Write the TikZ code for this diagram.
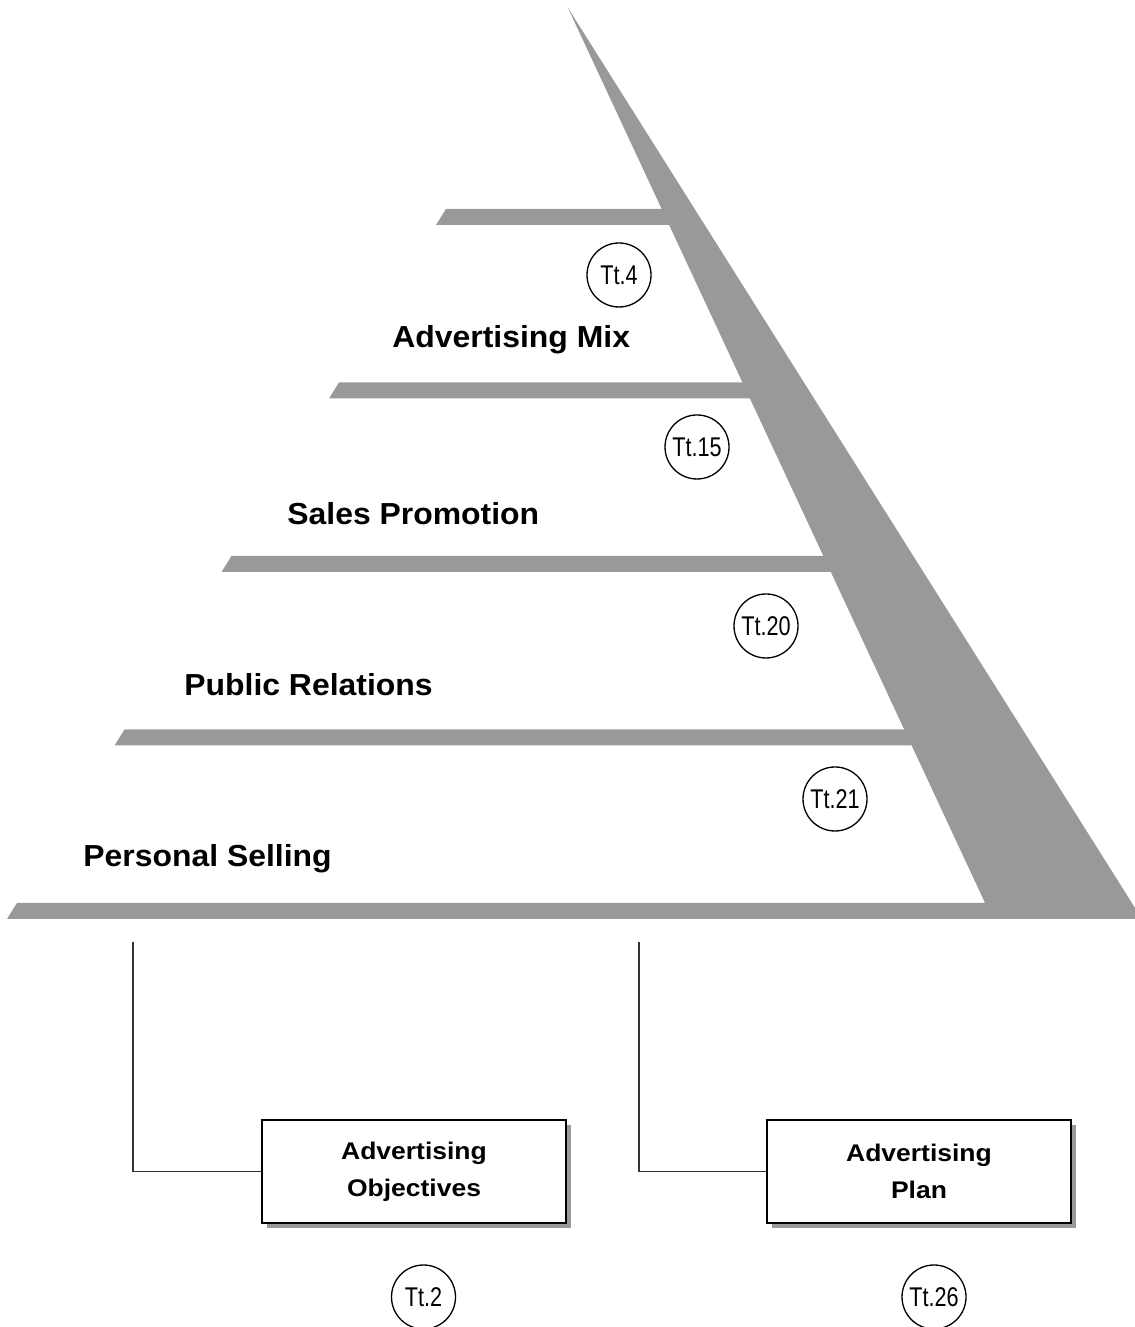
\documentclass[tikz,border=0pt]{standalone}
\usepackage{fontspec}
\setmainfont{Liberation Sans}
\newfontfamily\labelfont[FakeStretch=1.05]{Liberation Sans}
\newfontfamily\boxfont[FakeStretch=1.1]{Liberation Sans}
\newfontfamily\tagfont[FakeStretch=0.8]{Liberation Sans}
\usepackage{tikz}
\usetikzlibrary{calc,shadows}
\definecolor{shelfgray}{gray}{0.6}
\tikzset{shelf/.style={
    fill=shelfgray,
  },
  level/.style={
    anchor=base west, inner sep=0pt,
    font=\labelfont\bfseries\fontsize{17.3}{20}\selectfont
  },
  tag/.style={
    circle, draw, line width=0.75pt, minimum size=1.28cm, inner sep=0pt,
    font=\tagfont\fontsize{15.4}{18}\selectfont
  },
  box/.style={
    draw, line width=0.8pt, fill=white, align=center,
    minimum width=6.08cm, minimum height=2.06cm, inner sep=0pt,
    font=\boxfont\bfseries\fontsize{13.7}{21}\selectfont,
    drop shadow={shadow xshift=0.1cm, shadow yshift=-0.1cm, fill=shelfgray, opacity=1}
  },
  link/.style={
    draw=black!80, line width=0.85pt
  }
}

\begin{document}
\begin{tikzpicture}
  \useasboundingbox (0,0) rectangle (22.68,26.54);

  % -- The slanted back of the shelves.
  \fill[shelf] (11.36,26.38) -- (22.84,8.16) -- (19.85,8.16) -- cycle;

  % -- The shelves, from top to bottom.
  \fill[shelf] (8.92,22.36) -- (13.5,22.36) -- ++(0,-0.32) -- (8.72,22.04) -- cycle;
  \fill[shelf] (6.78,18.89) -- (15.1,18.89) -- ++(0,-0.32) -- (6.58,18.57) -- cycle;
  \fill[shelf] (4.63,15.42) -- (16.7,15.42) -- ++(0,-0.32) -- (4.43,15.10) -- cycle;
  \fill[shelf] (2.49,11.95) -- (18.3,11.95) -- ++(0,-0.32) -- (2.29,11.63) -- cycle;
  \fill[shelf] (0.34,8.48) -- (21.0,8.48) -- ++(0,-0.32) -- (0.14,8.16) -- cycle;

  % -- Names of the levels.
  \node[level] (mix) at (7.84,19.59) {Advertising Mix};
  \node[level] (promo) at (5.74,16.05) {Sales Promotion};
  \node[level] (relations) at (3.68,12.63) {Public Relations};
  \node[level] (selling) at (1.66,9.20) {Personal Selling};

  % -- Circled references.
  \node[tag] (tt4) at (12.38,21.04) {Tt.4};
  \node[tag] (tt15) at (13.94,17.60) {Tt.15};
  \node[tag] (tt20) at (15.32,14.02) {Tt.20};
  \node[tag] (tt21) at (16.70,10.56) {Tt.21};

  % -- The two boxes below and their links.
  \node[box] (objectives) at (8.28,3.11) {Advertising\\Objectives};
  \node[box] (plan) at (18.38,3.11) {Advertising\\Plan};
  \coordinate (objtop) at (2.66,7.70);
  \coordinate (plantop) at (12.78,7.70);
  \draw[link] (objtop) |- (objectives.west);
  \draw[link] (plantop) |- (plan.west);

  \node[tag] (tt2) at (8.47,0.60) {Tt.2};
  \node[tag] (tt26) at (18.68,0.60) {Tt.26};
\end{tikzpicture}
\end{document}
